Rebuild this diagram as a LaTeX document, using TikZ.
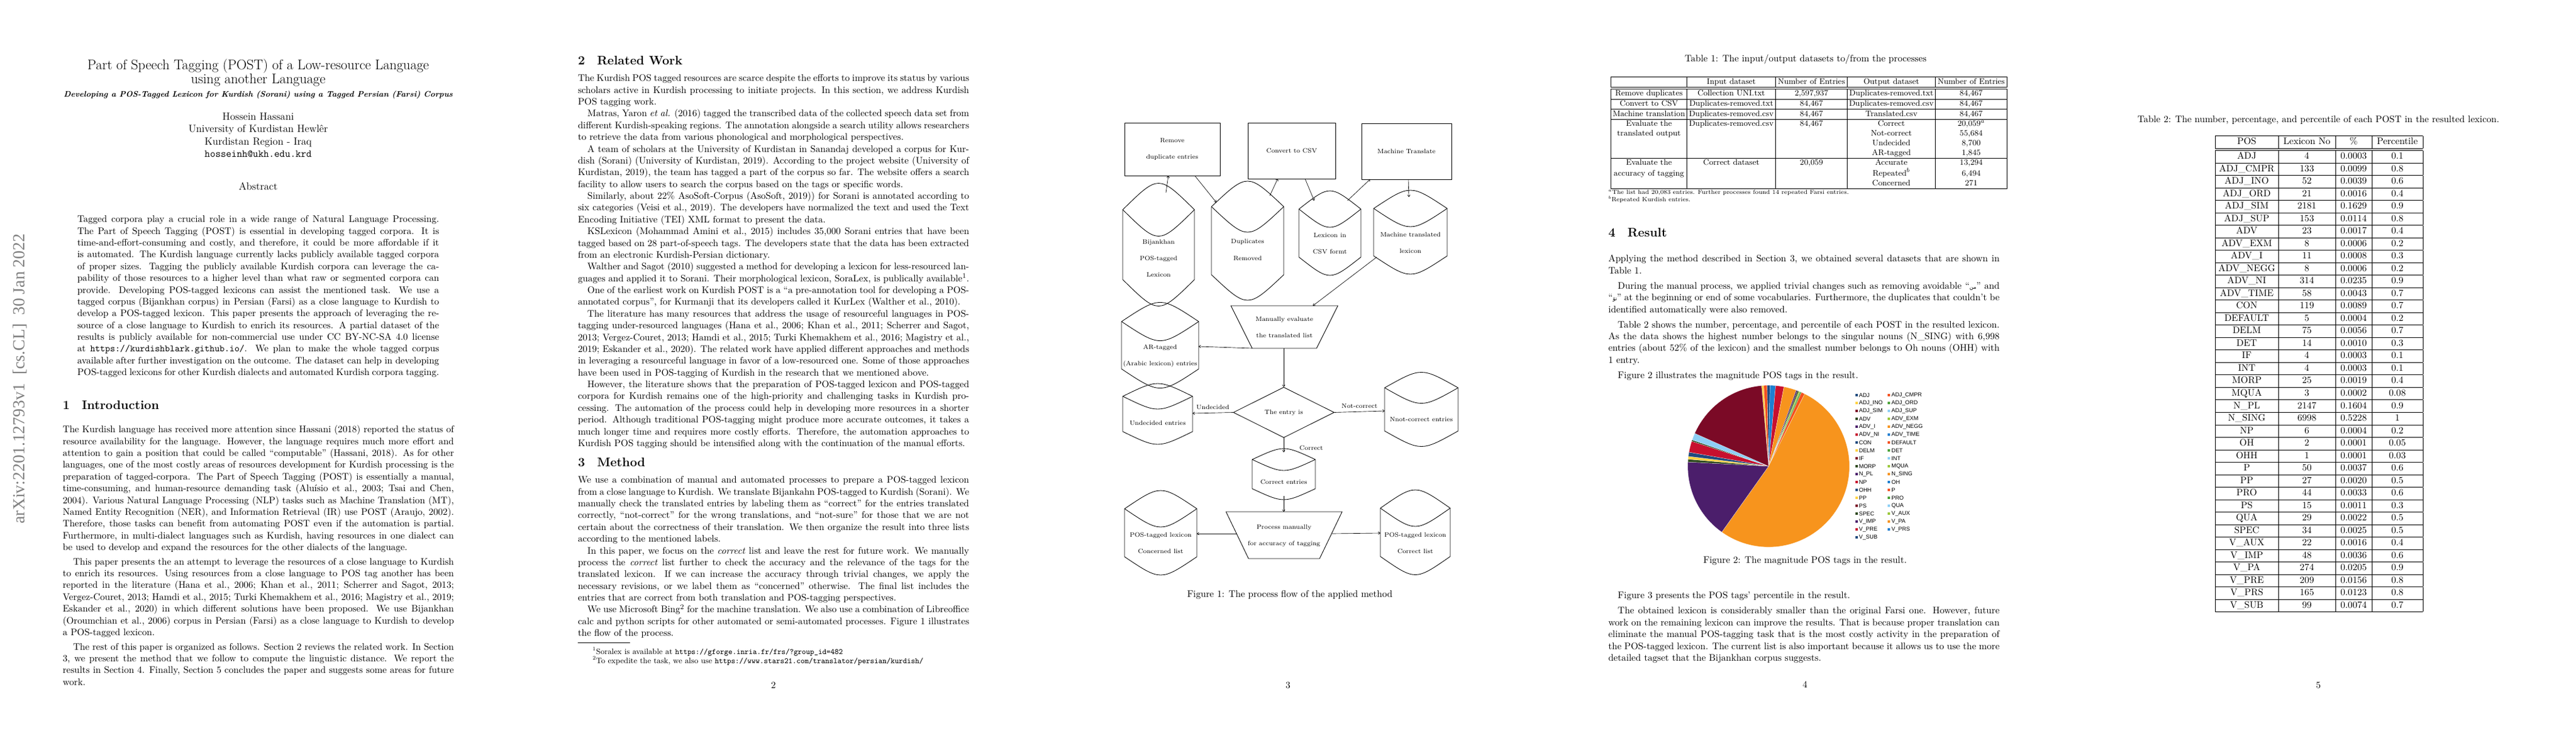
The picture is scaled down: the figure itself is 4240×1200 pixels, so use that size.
\documentclass[tikz,border=0pt]{standalone}
\usepackage{fontspec}
\usepackage{array}
\usetikzlibrary{arrows.meta,shapes.geometric}
\newfontfamily\arial{Liberation Sans}
\newfontfamily\timesf{Liberation Serif}
\newfontfamily\arabicfont[Script=Arabic]{DejaVu Sans}
\TeXXeTstate=1
\newcolumntype{C}[1]{>{\centering\arraybackslash}p{#1}}
\definecolor{pc0}{HTML}{1F4A7E}
\definecolor{pc1}{HTML}{F4511E}
\definecolor{pc2}{HTML}{FFD23F}
\definecolor{pc3}{HTML}{4CA43B}
\definecolor{pc4}{HTML}{7B0A26}
\definecolor{pc5}{HTML}{8ECFF5}
\definecolor{pc6}{HTML}{2F4A1F}
\definecolor{pc7}{HTML}{9BC83C}
\definecolor{pc8}{HTML}{4B1E6B}
\definecolor{pc9}{HTML}{F7941D}
\definecolor{pc10}{HTML}{C8102E}
\definecolor{pc11}{HTML}{1E7FD0}
\definecolor{stampgray}{HTML}{808080}
\newcommand{\npar}{\par\hspace*{11pt}}
\newcommand{\dbnode}[8]{%
  \draw[figl] (#2,#3+#6) .. controls ({(#2+#4)/2},#3-#6) .. (#4,#3+#6) -- (#4,#5-#6) .. controls ({(#2+#4)/2},#5+#6) .. (#2,#5-#6) -- cycle;
  \draw[figl] (#2,#3+#6) .. controls ({(#2+#4)/2},#3+3*#6) .. (#4,#3+#6);
  \node[ftxt] (#1) at ({(#2+#4)/2},#7) {#8};}
\tikzset{
  txt/.style={anchor=north west, inner sep=0pt, text width=452pt, align=justify, font=\fontsize{10.95}{13.6}\selectfont},
  hd/.style={anchor=west, inner sep=0pt, font=\fontsize{14.4}{17}\selectfont\bfseries},
  figl/.style={line width=0.6pt},
  ftxt/.style={inner sep=0pt, align=center, font=\fontsize{7.3}{19}\selectfont},
  fbox/.style={draw, line width=0.6pt, inner sep=0pt, align=center, font=\fontsize{7.3}{19}\selectfont},
  fa/.style={-{To[length=2.6pt,width=3.4pt]}, line width=0.45pt},
  flab/.style={inner sep=0pt, font=\fontsize{7.3}{9}\selectfont},
  pnum/.style={inner sep=0pt, font=\fontsize{10.95}{13}\selectfont},
  capt/.style={inner sep=0pt, font=\fontsize{10.95}{13}\selectfont},
  leg/.style={anchor=west, inner sep=0pt, font=\arial\fontsize{6.5}{7}\selectfont}
}
\begin{document}
\begin{tikzpicture}[x=0.702pt,y=-0.702pt]
\fill[white] (0,0) rectangle (4240,1200);
\useasboundingbox (0,0) rectangle (4240,1200);
\def\u{0.702pt}
%%%%%%%%%%%%%%%% PAGE 1
\node[rotate=90, inner sep=0pt, text=stampgray, font=\timesf\fontsize{19.5}{20}\selectfont] (stamp) at (33,623) {arXiv:2201.12793v1\ \ [cs.CL]\ \ 30 Jan 2022};
\node[align=center, inner sep=0pt, font=\fontsize{16.2}{16.3}\selectfont] (title) at (425,119.5) {Part of Speech Tagging (POST) of a Low-resource Language\\using another Language};
\node[inner sep=0pt, font=\fontsize{9.3}{11}\selectfont\bfseries\itshape] (subtitle) at (425,156) {Developing a POS-Tagged Lexicon for Kurdish (Sorani) using a Tagged Persian (Farsi) Corpus};
\node[align=center, inner sep=0pt, font=\fontsize{12}{14.4}\selectfont] (author) at (425,222) {Hossein Hassani\\University of Kurdistan Hewlêr\\Kurdistan Region - Iraq\\\texttt{hosseinh@ukh.edu.krd}};
\node[inner sep=0pt, font=\fontsize{12}{14}\selectfont] (abshd) at (425,306.5) {Abstract};
\node[txt, text width=418pt] (abs) at (127,352) {\strut Tagged corpora play a crucial role in a wide range of Natural Language Processing. The Part of Speech Tagging (POST) is essential in developing tagged corpora. It is time-and-effort-consuming and costly, and therefore, it could be more affordable if it is automated. The Kurdish language currently lacks publicly available tagged corpora of proper sizes. Tagging the publicly available Kurdish corpora can leverage the capability of those resources to a higher level than what raw or segmented corpora can provide. Developing POS-tagged lexicons can assist the mentioned task. We use a tagged corpus (Bijankhan corpus) in Persian (Farsi) as a close language to Kurdish to develop a POS-tagged lexicon. This paper presents the approach of leveraging the resource of a close language to Kurdish to enrich its resources. A partial dataset of the results is publicly available for non-commercial use under CC BY-NC-SA 4.0 license at \texttt{https://kurdishblark.github.io/}. We plan to make the whole tagged corpus available after further investigation on the outcome. The dataset can help in developing POS-tagged lexicons for other Kurdish dialects and automated Kurdish corpora tagging.};
\node[hd] (h1) at (103,666) {1\hspace{14pt}Introduction};
\node[txt] (intro) at (103,698) {\strut The Kurdish language has received more attention since Hassani (2018) reported the status of resource availability for the language. However, the language requires much more effort and attention to gain a position that could be called ``computable'' (Hassani, 2018). As for other languages, one of the most costly areas of resources development for Kurdish processing is the preparation of tagged-corpora. The Part of Speech Tagging (POST) is essentially a manual, time-consuming, and human-resource demanding task (Aluísio et al., 2003; Tsai and Chen, 2004). Various Natural Language Processing (NLP) tasks such as Machine Translation (MT), Named Entity Recognition (NER), and Information Retrieval (IR) use POST (Araujo, 2002). Therefore, those tasks can benefit from automating POST even if the automation is partial. Furthermore, in multi-dialect languages such as Kurdish, having resources in one dialect can be used to develop and expand the resources for the other dialects of the language.\par\vspace{3pt}\hspace*{12pt}This paper presents the an attempt to leverage the resources of a close language to Kurdish to enrich its resources. Using resources from a close language to POS tag another has been reported in the literature (Hana et al., 2006; Khan et al., 2011; Scherrer and Sagot, 2013; Vergez-Couret, 2013; Hamdi et al., 2015; Turki Khemakhem et al., 2016; Magistry et al., 2019; Eskander et al., 2020) in which different solutions have been proposed. We use Bijankhan (Oroumchian et al., 2006) corpus in Persian (Farsi) as a close language to Kurdish to develop a POS-tagged lexicon.\par\vspace{3pt}\hspace*{12pt}The rest of this paper is organized as follows. Section 2 reviews the related work. In Section 3, we present the method that we follow to compute the linguistic distance. We report the results in Section 4. Finally, Section 5 concludes the paper and suggests some areas for future work.};
%%%%%%%%%%%%%%%% PAGE 2
\node[hd] (h2) at (951,100) {2\hspace{14pt}Related Work};
\node[txt] (rw) at (951,120) {\strut The Kurdish POS tagged resources are scarce despite the efforts to improve its status by various scholars active in Kurdish processing to initiate projects. In this section, we address Kurdish POS tagging work.\npar Matras, Yaron \textit{et al.} (2016) tagged the transcribed data of the collected speech data set from different Kurdish-speaking regions. The annotation alongside a search utility allows researchers to retrieve the data from various phonological and morphological perspectives.\npar A team of scholars at the University of Kurdistan in Sanandaj developed a corpus for Kurdish (Sorani) (University of Kurdistan, 2019). According to the project website (University of Kurdistan, 2019), the team has tagged a part of the corpus so far. The website offers a search facility to allow users to search the corpus based on the tags or specific words.\npar Similarly, about 22\% AsoSoft-Corpus (AsoSoft, 2019)) for Sorani is annotated according to six categories (Veisi et al., 2019). The developers have normalized the text and used the Text Encoding Initiative (TEI) XML format to present the data.\npar KSLexicon (Mohammad Amini et al., 2015) includes 35,000 Sorani entries that have been tagged based on 28 part-of-speech tags. The developers state that the data has been extracted from an electronic Kurdish-Persian dictionary.\npar Walther and Sagot (2010) suggested a method for developing a lexicon for less-resourced languages and applied it to Sorani. Their morphological lexicon, SoraLex, is publically available$^1$.\npar One of the earliest work on Kurdish POST is a ``a pre-annotation tool for developing a POS-annotated corpus'', for Kurmanji that its developers called it KurLex (Walther et al., 2010).\npar The literature has many resources that address the usage of resourceful languages in POS-tagging under-resourced languages (Hana et al., 2006; Khan et al., 2011; Scherrer and Sagot, 2013; Vergez-Couret, 2013; Hamdi et al., 2015; Turki Khemakhem et al., 2016; Magistry et al., 2019; Eskander et al., 2020). The related work have applied different approaches and methods in leveraging a resourceful language in favor of a low-resourced one. Some of those approaches have been used in POS-tagging of Kurdish in the research that we mentioned above.\npar However, the literature shows that the preparation of POS-tagged lexicon and POS-tagged corpora for Kurdish remains one of the high-priority and challenging tasks in Kurdish processing. The automation of the process could help in developing more resources in a shorter period. Although traditional POS-tagging might produce more accurate outcomes, it takes a much longer time and requires more costly efforts. Therefore, the automation approaches to Kurdish POS tagging should be intensified along with the continuation of the manual efforts.};
\node[hd] (h3) at (951,760) {3\hspace{14pt}Method};
\node[txt] (meth) at (951,781) {\strut We use a combination of manual and automated processes to prepare a POS-tagged lexicon from a close language to Kurdish. We translate Bijankahn POS-tagged to Kurdish (Sorani). We manually check the translated entries by labeling them as ``correct'' for the entries translated correctly, ``not-correct'' for the wrong translations, and ``not-sure'' for those that we are not certain about the correctness of their translation. We then organize the result into three lists according to the mentioned labels.\npar In this paper, we focus on the \textit{correct} list and leave the rest for future work. We manually process the \textit{correct} list further to check the accuracy and the relevance of the tags for the translated lexicon. If we can increase the accuracy through trivial changes, we apply the necessary revisions, or we label them as ``concerned'' otherwise. The final list includes the entries that are correct from both translation and POS-tagging perspectives.\npar We use Microsoft Bing$^2$ for the machine translation. We also use a combination of Libreoffice calc and python scripts for other automated or semi-automated processes. Figure 1 illustrates the flow of the process.};
\coordinate (fnl) at (951,1057); \coordinate (fnr) at (1037,1057);
\draw[line width=0.4pt] (fnl) -- (fnr);
\node[anchor=west, inner sep=0pt, font=\fontsize{9}{11}\selectfont] (fn1) at (975,1072) {$^1$Soralex is available at \texttt{https://gforge.inria.fr/frs/?group\_id=482}};
\node[anchor=west, inner sep=0pt, font=\fontsize{9}{11}\selectfont] (fn2) at (975,1087) {$^2$To expedite the task, we also use \texttt{https://www.stars21.com/translator/persian/kurdish/}};
\node[pnum] (p2) at (1273,1127) {2};
%%%%%%%%%%%%%%%% PAGE 3 (Figure 1)
\node[fbox, minimum width=157*\u, minimum height=87*\u] (rem) at (1929.5,245.5) {Remove\\duplicate entries};
\node[fbox, minimum width=144*\u, minimum height=92*\u] (conv) at (2126,248) {Convert to CSV};
\node[fbox, minimum width=148*\u, minimum height=92*\u] (mt) at (2315,249) {Machine Translate};
\dbnode{bij}{1848}{316}{1966}{489}{29}{425}{Bijankhan\\POS-tagged\\Lexicon}
\dbnode{dup}{1994}{312}{2113}{480}{28}{411}{Duplicates\\Removed}
\dbnode{csv}{2138}{324}{2240}{443}{20}{401}{Lexicon in\\CSV formt}
\dbnode{mtl}{2261}{323}{2382}{441}{20}{399.5}{Machine translated\\lexicon}
\dbnode{ar}{1846}{508}{1973}{628}{21}{585.5}{AR-tagged\\(Arabic lexicon) entries}
\dbnode{und}{1848}{638}{1963}{724}{14}{695.5}{Undecided entries}
\dbnode{notc}{2279}{621}{2400}{726}{17}{689.6}{Nnot-correct entries}
\dbnode{cor}{2061}{744}{2165}{816}{12}{793}{Correct entries}
\dbnode{conc}{1851}{817}{1970}{936}{20}{893.5}{POS-tagged lexicon\\Concerned list}
\dbnode{corl}{2272}{816}{2387}{935.5}{20}{893}{POS-tagged lexicon\\Correct list}
\draw[figl] (2026,503) -- (2202,503) -- (2167,573) -- (2061,573) -- cycle;
\node[ftxt] (man) at (2114,538.5) {Manually evaluate\\the translated list};
\draw[figl] (2018,842) -- (2209,842) -- (2172,919) -- (2055,919) -- cycle;
\node[ftxt] (proc) at (2113.5,881.5) {Process manually\\for accuracy of tagging};
\node[diamond, draw, line width=0.6pt, aspect=2, inner sep=0pt, minimum width=166*\u, minimum height=83*\u, font=\fontsize{7.3}{9}\selectfont] (dia) at (2113,678.5) {The entry is};
% connector end points
\coordinate (bijT) at (1919,317); \coordinate (remB1) at (1923,289);
\coordinate (remB2) at (1966.5,289); \coordinate (dupT) at (2002,333);
\coordinate (dupT2) at (2090,322); \coordinate (convB1) at (2103,294);
\coordinate (convB2) at (2148,294); \coordinate (csvT) at (2163,330);
\coordinate (csvT2) at (2218,330); \coordinate (mtB1) at (2255,295);
\coordinate (mtB2) at (2318,295); \coordinate (mtlT) at (2319,324);
\coordinate (mtlL) at (2266,423); \coordinate (manT) at (2161,503);
\coordinate (manBL) at (2061,573); \coordinate (arR) at (1973,570);
\coordinate (manB) at (2113,573);
\coordinate (undR) at (1963,680); \coordinate (notcL) at (2279,676);
\coordinate (corT) at (2113,744); \coordinate (corB) at (2113,816);
\coordinate (procT) at (2113,842);
\coordinate (procL) at (2036,878); \coordinate (concR) at (1970,878);
\coordinate (procR) at (2192,878); \coordinate (corlL) at (2272,877);
\draw[fa] (bijT) -- (remB1);
\draw[fa] (remB2) -- (dupT);
\draw[fa] (dupT2) -- (convB1);
\draw[fa] (convB2) -- (csvT);
\draw[fa] (csvT2) -- (mtB1);
\draw[fa] (mtB2) -- (mtlT);
\draw[fa] (mtlL) -- (manT);
\draw[fa] (manBL) -- (arR);
\draw[fa] (manB) -- (dia.north);
\draw[fa] (dia.west) -- (undR) node[flab, midway, above=4pt] {Undecided};
\draw[fa] (dia.east) -- (notcL) node[flab, midway, above=4pt] {Not-correct};
\draw[fa] (dia.south) -- (corT) node[flab, midway, right=18pt, yshift=-3pt] {Correct};
\draw[fa] (corB) -- (procT);
\draw[fa] (procL) -- (concR);
\draw[fa] (procR) -- (corlL);
\node[capt] (cap1) at (2123,979) {Figure 1: The process flow of the applied method};
\node[pnum] (p3) at (2120,1127) {3};
%%%%%%%%%%%%%%%% PAGE 4
\node[capt] (cap2) at (2972,98) {Table 1: The input/output datasets to/from the processes};
\node[anchor=north west, inner sep=0pt, font=\fontsize{9.3}{11.2}\selectfont] (tab1) at (2651,126) {\setlength\tabcolsep{0pt}%
\begin{tabular}{|C{87.4pt}|C{102.1pt}|C{82.4pt}|C{101.4pt}|C{82.4pt}|}
\hline
 & Input dataset & Number of Entries & Output dataset & Number of Entries\\ \hline\hline
Remove duplicates & Collection UNI.txt & 2,597,937 & Duplicates-removed.txt & 84,467\\ \hline
Convert to CSV & Duplicates-removed.txt & 84,467 & Duplicates-removed.csv & 84,467\\ \hline
Machine translation & Duplicates-removed.csv & 84,467 & Translated.csv & 84,467\\ \hline
Evaluate the & Duplicates-removed.csv & 84,467 & Correct & 20,059$^a$\\
translated output & & & Not-correct & 55,684\\
 & & & Undecided & 8,700\\
 & & & AR-tagged & 1,845\\ \hline
Evaluate the & Correct dataset & 20,059 & Accurate & 13,294\\
accuracy of tagging & & & Repeated$^b$ & 6,494\\
 & & & Concerned & 271\\ \hline
\end{tabular}};
\node[anchor=west, inner sep=0pt, font=\fontsize{7}{8}\selectfont] (tfa) at (2647,317) {$^a$The list had 20,083 entries. Further processes found 14 repeated Farsi entries.};
\node[anchor=west, inner sep=0pt, font=\fontsize{7}{8}\selectfont] (tfb) at (2647,328) {$^b$Repeated Kurdish entries.};
\node[hd] (h4) at (2647,382) {4\hspace{14pt}Result};
\node[txt] (res) at (2647,417) {\strut Applying the method described in Section 3, we obtained several datasets that are shown in Table 1.\par\vspace{4pt}\hspace*{11pt}During the manual process, we applied trivial changes such as removing avoidable ``{\arabicfont\fontsize{6}{7}\selectfont\beginR من\endR}'' and ``{\arabicfont\fontsize{6}{7}\selectfont\beginR تۆ\endR}'' at the beginning or end of some vocabularies. Furthermore, the duplicates that couldn't be identified automatically were also removed.\par\vspace{4pt}\hspace*{11pt}Table 2 shows the number, percentage, and percentile of each POST in the resulted lexicon. As the data shows the highest number belongs to the singular nouns (N\_SING) with 6,998 entries (about 52\% of the lexicon) and the smallest number belongs to Oh nouns (OHH) with 1 entry.\par\vspace{4pt}\hspace*{11pt}Figure 2 illustrates the magnitude POS tags in the result.};
% pie chart
\coordinate (pie) at (2911,767);
\foreach \s/\e/\c in {95/93.5/pc2,93.5/91/pc1,91/89/pc0,89/85/pc11,85/79/pc10,79/70/pc9,70/69/pc8,69/68/pc6,68/67/pc7,67/66/pc3,66/63.5/pc1,63.5/-125.4/pc9,-125.4/-183/pc8,-183/-185/pc6,-185/-187/pc2,-187/-190/pc0,-190/-198/pc10,-198/-199/pc6,-199/-204/pc5,-204/-265/pc4}
  \fill[\c, draw=white, line width=0.15pt] (pie) -- ++(\s:93.4pt) arc[start angle=\s, end angle=\e, radius=93.4pt] -- cycle;
\foreach \nm [count=\i from 0] in {ADJ,ADJ\_CMPR,ADJ\_INO,ADJ\_ORD,ADJ\_SIM,ADJ\_SUP,ADV,ADV\_EXM,ADV\_I,ADV\_NEGG,ADV\_NI,ADV\_TIME,CON,DEFAULT,DELM,DET,IF,INT,MORP,MQUA,N\_PL,N\_SING,NP,OH,OHH,P,PP,PRO,PS,QUA,SPEC,V\_AUX,V\_IMP,V\_PA,V\_PRE,V\_PRS,V\_SUB}{
  \pgfmathtruncatemacro\rr{\i/2}
  \pgfmathtruncatemacro\cl{mod(\i,2)}
  \pgfmathtruncatemacro\kk{mod(\i,12)}
  \fill[pc\kk] ({3053.5+53.5*\cl},{648.3+12.98*\rr}) rectangle ++(4,4);
  \node[leg] at ({3059.5+53.5*\cl},{650.3+12.98*\rr}) {\nm};
}
\node[capt] (cap3) at (2971,923) {Figure 2: The magnitude POS tags in the result.};
\node[txt] (res2) at (2647,971) {\strut\hspace*{11pt}Figure 3 presents the POS tags' percentile in the result.\par\vspace{4pt}\hspace*{11pt}The obtained lexicon is considerably smaller than the original Farsi one. However, future work on the remaining lexicon can improve the results. That is because proper translation can eliminate the manual POS-tagging task that is the most costly activity in the preparation of the POS-tagged lexicon. The current list is also important because it allows us to use the more detailed tagset that the Bijankhan corpus suggests.};
\node[pnum] (p4) at (2971,1126) {4};
%%%%%%%%%%%%%%%% PAGE 5
\node[capt] (cap4) at (3816,198) {Table 2: The number, percentage, and percentile of each POST in the resulted lexicon.};
\node[anchor=north, inner sep=0pt, font=\fontsize{10.95}{14}\selectfont] (tab2) at (3817,223) {\setlength\tabcolsep{0pt}%
\begin{tabular}{|C{72.6pt}|C{65.6pt}|C{41.6pt}|C{58.6pt}|}
\hline
POS & Lexicon No & \% & Percentile\\ \hline\hline
ADJ & 4 & 0.0003 & 0.1\\ \hline
ADJ\_CMPR & 133 & 0.0099 & 0.8\\ \hline
ADJ\_INO & 52 & 0.0039 & 0.6\\ \hline
ADJ\_ORD & 21 & 0.0016 & 0.4\\ \hline
ADJ\_SIM & 2181 & 0.1629 & 0.9\\ \hline
ADJ\_SUP & 153 & 0.0114 & 0.8\\ \hline
ADV & 23 & 0.0017 & 0.4\\ \hline
ADV\_EXM & 8 & 0.0006 & 0.2\\ \hline
ADV\_I & 11 & 0.0008 & 0.3\\ \hline
ADV\_NEGG & 8 & 0.0006 & 0.2\\ \hline
ADV\_NI & 314 & 0.0235 & 0.9\\ \hline
ADV\_TIME & 58 & 0.0043 & 0.7\\ \hline
CON & 119 & 0.0089 & 0.7\\ \hline
DEFAULT & 5 & 0.0004 & 0.2\\ \hline
DELM & 75 & 0.0056 & 0.7\\ \hline
DET & 14 & 0.0010 & 0.3\\ \hline
IF & 4 & 0.0003 & 0.1\\ \hline
INT & 4 & 0.0003 & 0.1\\ \hline
MORP & 25 & 0.0019 & 0.4\\ \hline
MQUA & 3 & 0.0002 & 0.08\\ \hline
N\_PL & 2147 & 0.1604 & 0.9\\ \hline
N\_SING & 6998 & 0.5228 & 1\\ \hline
NP & 6 & 0.0004 & 0.2\\ \hline
OH & 2 & 0.0001 & 0.05\\ \hline
OHH & 1 & 0.0001 & 0.03\\ \hline
P & 50 & 0.0037 & 0.6\\ \hline
PP & 27 & 0.0020 & 0.5\\ \hline
PRO & 44 & 0.0033 & 0.6\\ \hline
PS & 15 & 0.0011 & 0.3\\ \hline
QUA & 29 & 0.0022 & 0.5\\ \hline
SPEC & 34 & 0.0025 & 0.5\\ \hline
V\_AUX & 22 & 0.0016 & 0.4\\ \hline
V\_IMP & 48 & 0.0036 & 0.6\\ \hline
V\_PA & 274 & 0.0205 & 0.9\\ \hline
V\_PRE & 209 & 0.0156 & 0.8\\ \hline
V\_PRS & 165 & 0.0123 & 0.8\\ \hline
V\_SUB & 99 & 0.0074 & 0.7\\ \hline
\end{tabular}};
\node[pnum] (p5) at (3816,1127) {5};
\end{tikzpicture}
\end{document}
